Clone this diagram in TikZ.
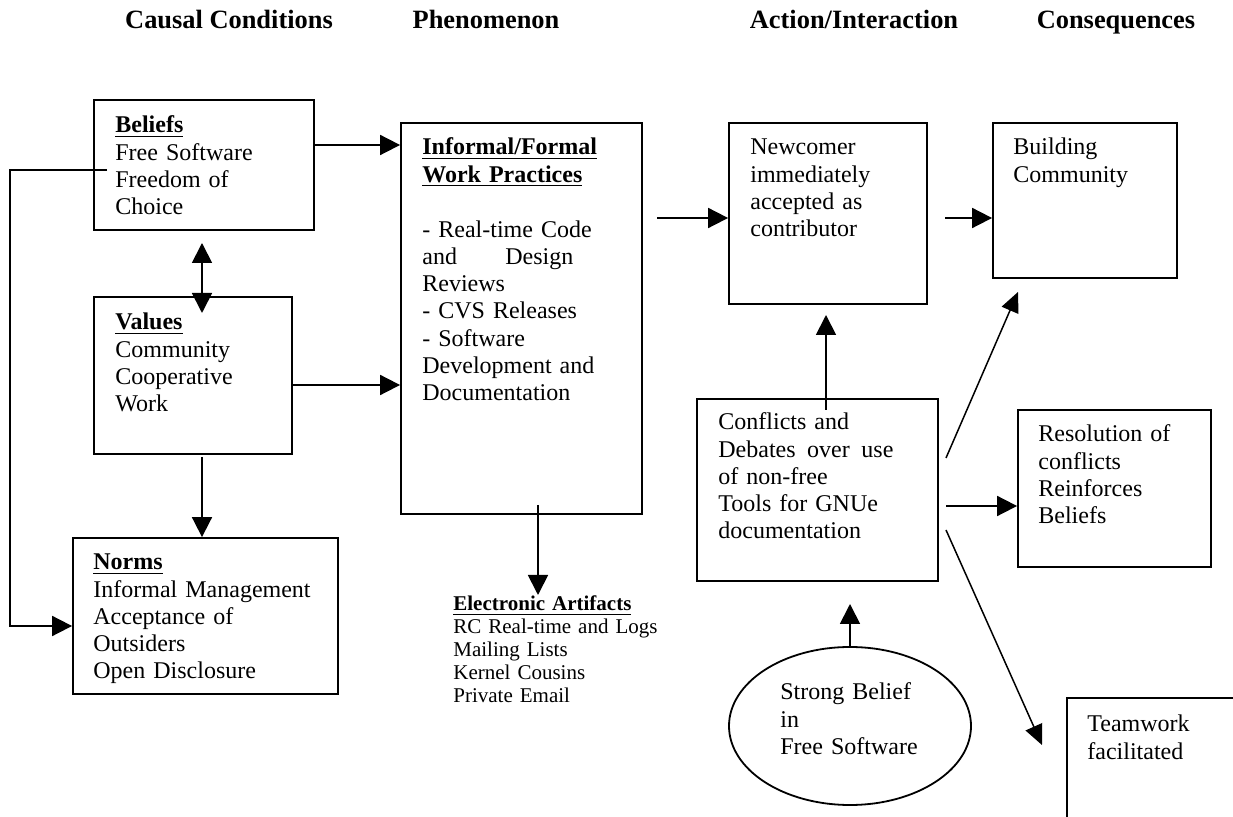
\documentclass[tikz,border=0pt]{standalone}
\usepackage{fontspec}
\setmainfont{Liberation Serif}
\usetikzlibrary{arrows.meta,fit,shapes.geometric}
\begin{document}
\begin{tikzpicture}[x=0.5pt,y=-0.5pt,
  box/.style={draw, line width=0.9pt, inner sep=0pt, rectangle},
  txt/.style={anchor=base west, inner sep=0pt, align=left, text width=160pt,
    font=\fontsize{12}{13.6}\selectfont},
  small/.style={anchor=base west, inner sep=0pt, align=left, text width=160pt,
    font=\fontsize{10.5}{11.4}\selectfont},
  head/.style={anchor=base, inner sep=0pt, font=\fontsize{13.2}{15}\selectfont\bfseries},
  arr/.style={line width=0.9pt, -{Triangle[length=10pt,width=10pt]}},
  thinarr/.style={line width=0.75pt, -{Triangle[length=10pt,width=9pt]}},
  darr/.style={line width=0.9pt, {Triangle[length=10pt,width=10pt]}-{Triangle[length=10pt,width=10pt]}}]
\clip (0,0) rectangle (1233,817);
\fill[white] (0,0) rectangle (1233,817);

% headings
\node[head] (h1) at (229,29) {Causal Conditions};
\node[head] (h2) at (486,29) {Phenomenon};
\node[head] (h3) at (854,29) {Action/Interaction};
\node[head] (h4) at (1116,29) {Consequences};

% boxes
\node[box, fit={(94,100)(314,230)}] (beliefs) {};
\node[box, fit={(94,297)(292,454)}] (values) {};
\node[box, fit={(73,538)(338,694)}] (norms) {};
\node[box, fit={(401,123)(642,514)}] (informal) {};
\node[box, fit={(729,123)(927,304)}] (newcomer) {};
\node[box, fit={(993,123)(1177,278)}] (building) {};
\node[box, fit={(697,399)(938,581)}] (conflicts) {};
\node[box, fit={(1018,410)(1211,567)}] (resolution) {};
\node[box, fit={(1067,698)(1260,850)}] (teamwork) {};
\node[draw, line width=0.9pt, ellipse, minimum width=121pt, minimum height=79pt, inner sep=0pt] (strong) at (850,726) {};

% texts
\node[txt] (tbeliefs) at (115,133) {\textbf{\underline{Beliefs}}\\Free Software\\Freedom of\\Choice};
\node[txt] (tvalues) at (115,330) {\textbf{\underline{Values}}\\Community\\Cooperative\\Work};
\node[txt] (tnorms) at (93,570) {\textbf{\underline{Norms}}\\Informal Management\\Acceptance of\\Outsiders\\Open Disclosure};
\node[txt] (tinformal) at (422,155) {\textbf{\underline{Informal/Formal}}\\\textbf{\underline{Work Practices}}\\[14pt]- Real-time Code\\\makebox[75.5pt][s]{and\hfill Design}\\Reviews\\- CVS Releases\\- Software\\Development and\\Documentation};
\node[small] (tartifacts) at (453,611) {\textbf{\underline{Electronic Artifacts}}\\RC Real-time and Logs\\Mailing Lists\\Kernel Cousins\\Private Email};
\node[txt] (tnewcomer) at (750,155) {Newcomer\\immediately\\accepted as\\contributor};
\node[txt] (tbuilding) at (1013,155) {Building\\Community};
\node[txt] (tconflicts) at (718,430) {Conflicts and\\\makebox[87.5pt][s]{Debates\hfill over\hfill use}\\of non-free\\Tools for GNUe\\documentation};
\node[txt] (tresolution) at (1038,442) {Resolution of\\conflicts\\Reinforces\\Beliefs};
\node[txt] (tteamwork) at (1087,732) {Teamwork\\facilitated};
\node[txt] (tstrong) at (780,700) {Strong Belief\\in\\Free Software};

% free ends
\coordinate (bv1) at (202,243);
\coordinate (bv2) at (202,313);
\coordinate (vn1) at (202,457);
\coordinate (fb0) at (107,170);
\coordinate (fb1) at (10,170);
\coordinate (fb2) at (10,626);
\coordinate (ia0) at (538,505);
\coordinate (ia1) at (538,595);
\coordinate (in0) at (657,218);
\coordinate (nb0) at (945,218);
\coordinate (cn0) at (826,410);
\coordinate (cn1) at (826,315);
\coordinate (cb0) at (946,458);
\coordinate (cb1) at (1018,292);
\coordinate (cr0) at (946,506);
\coordinate (ct0) at (946,530);
\coordinate (ct1) at (1042,745);
\coordinate (sc1) at (850,604);

% connectors
\draw[arr] (beliefs.east |- 0,145) -- (informal.west |- 0,145);
\draw[arr] (values.east |- 0,385) -- (informal.west |- 0,385);
\draw[darr] (bv1) -- (bv2);
\draw[arr] (vn1) -- (norms.north -| vn1);
\draw[arr] (fb0) -- (fb1) -- (fb2) -- (norms.west |- fb2);
\draw[arr] (ia0) -- (ia1);
\draw[arr] (in0) -- (newcomer.west |- in0);
\draw[arr] (nb0) -- (building.west |- nb0);
\draw[arr] (cn0) -- (cn1);
\draw[thinarr] (cb0) -- (cb1);
\draw[arr] (cr0) -- (resolution.west |- cr0);
\draw[thinarr] (ct0) -- (ct1);
\draw[arr] (strong.north) -- (sc1);
\end{tikzpicture}
\end{document}
